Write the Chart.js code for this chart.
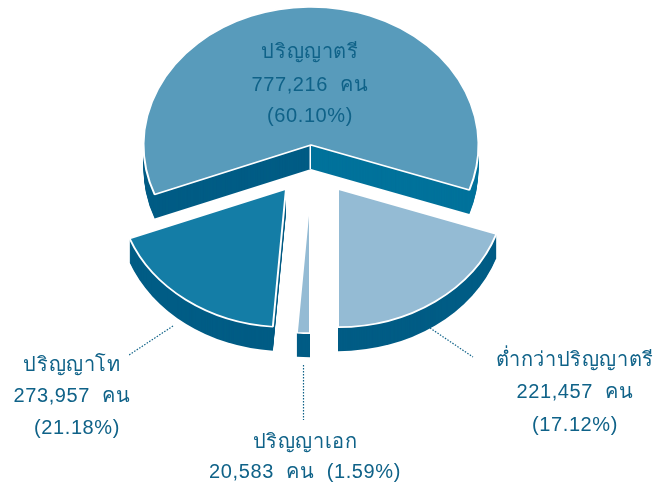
<!DOCTYPE html>
<html lang="th">
<head>
<meta charset="utf-8">
<style>
  html, body { margin: 0; padding: 0; background: #fff; }
  canvas { display: block; }
</style>
<script src="https://cdn.jsdelivr.net/npm/chart.js@4"></script>
</head>
<body>
<canvas id="grafico" width="653" height="485"></canvas>
<script>
const categories = ['ปริญญาตรี', 'ต่ำกว่าปริญญาตรี', 'ปริญญาเอก', 'ปริญญาโท'];
const counts = ['777,216', '221,457', '20,583', '273,957'];
const percents = ['60.10', '17.12', '1.59', '21.18'];
// The reference does not draw its wedges to scale (the 17.12% one is wider than
// the 21.18% one), so the sweeps below, in degrees, are read off the picture.
// The printed counts and percents above are only used in the labels.
const drawnSweeps = [220, 71, 4.5, 64.5];

const faceColors = ['#589bbb', '#94bbd4', '#94bbd4', '#147da6'];
const wallColor = '#005c85';
const innerWallColor = '#00729b';
const textColor = '#0f6288';

const squash = 0.825;  // tilt of the pie
const depth = 24;
const pull = [[0, 0], [27, 44], [-1, 50], [-25, 44]];  // how far each slice is moved out

// Text rows: [category index, what to print, x, y]
const labelRows = [
  [0, i => categories[i], 310, 52],
  [0, i => counts[i] + '  คน', 310, 85],
  [0, i => '(' + percents[i] + '%)', 310, 116],
  [3, i => categories[i], 72, 365],
  [3, i => counts[i] + '  คน', 72, 396],
  [3, i => '(' + percents[i] + '%)', 77, 428],
  [2, i => categories[i], 305, 442],
  [2, i => counts[i] + '  คน  (' + percents[i] + '%)', 305, 472],
  [1, i => categories[i], 575, 360],
  [1, i => counts[i] + '  คน', 575, 392],
  [1, i => '(' + percents[i] + '%)', 575, 425]
];
const leaders = [
  [173, 326, 129, 355],
  [430, 328, 473, 357],
  [303.5, 365, 303.5, 420]
];

// Apply the slice's shift and the squash around the pie centre
function tilt(ctx, arc, dx, dy) {
  ctx.translate(arc.x + dx, arc.y + dy);
  ctx.scale(1, squash);
  ctx.translate(-arc.x, -arc.y);
}

function wedge(ctx, arc) {
  ctx.beginPath();
  ctx.moveTo(arc.x, arc.y);
  ctx.arc(arc.x, arc.y, arc.outerRadius, arc.startAngle, arc.endAngle);
  ctx.closePath();
  ctx.fill();
}

function drawWalls(ctx, arc, i) {
  const [dx, dy] = pull[i];
  for (let d = depth; d > 0; d--) {
    if (i === 0) {
      // The big slice has two walls, split at its point
      ctx.save();
      ctx.beginPath();
      ctx.rect(0, 0, arc.x + dx, 485);
      ctx.clip();
      tilt(ctx, arc, dx, dy + d);
      ctx.fillStyle = wallColor;
      wedge(ctx, arc);
      ctx.restore();
      ctx.save();
      ctx.beginPath();
      ctx.rect(arc.x + dx, 0, 653, 485);
      ctx.clip();
      tilt(ctx, arc, dx, dy + d);
      ctx.fillStyle = innerWallColor;
      wedge(ctx, arc);
      ctx.restore();
    } else {
      ctx.save();
      tilt(ctx, arc, dx, dy + d);
      ctx.fillStyle = wallColor;
      wedge(ctx, arc);
      ctx.restore();
    }
  }
}

const pie3d = {
  id: 'pie3d',
  beforeDatasetsDraw(chart) {
    const ctx = chart.ctx;
    const arcs = chart.getDatasetMeta(0).data;
    arcs.forEach((arc, i) => {
      drawWalls(ctx, arc, i);
      if (i === 0) {
        // White seam between the two walls
        ctx.save();
        ctx.fillStyle = '#fff';
        ctx.fillRect(arc.x - 1.5, arc.y, 1.5, depth);
        ctx.restore();
      }
      ctx.save();
      tilt(ctx, arc, pull[i][0], pull[i][1]);
      arc.draw(ctx);
      ctx.restore();
    });
    return false;  // slices are already drawn
  },
  afterDraw(chart) {
    const ctx = chart.ctx;
    ctx.save();
    ctx.strokeStyle = textColor;
    ctx.lineWidth = 1.2;
    ctx.setLineDash([1.5, 1.5]);
    leaders.forEach(([x1, y1, x2, y2]) => {
      ctx.beginPath();
      ctx.moveTo(x1, y1);
      ctx.lineTo(x2, y2);
      ctx.stroke();
    });
    ctx.setLineDash([]);
    ctx.fillStyle = textColor;
    ctx.font = '20px "Liberation Sans", "Noto Sans", sans-serif';
    ctx.letterSpacing = '0.6px';
    ctx.textAlign = 'center';
    ctx.textBaseline = 'middle';
    labelRows.forEach(([i, text, x, y]) => ctx.fillText(text(i), x, y));
    ctx.restore();
  }
};

new Chart(document.getElementById('grafico'), {
  type: 'pie',
  data: {
    labels: categories,
    datasets: [{
      data: drawnSweeps,
      backgroundColor: faceColors,
      borderColor: '#ffffff',
      borderWidth: 2
    }]
  },
  options: {
    responsive: false,
    animation: false,
    rotation: -111,
    radius: 167.5,
    layout: { padding: { right: 31, bottom: 195 } },
    plugins: { legend: { display: false }, tooltip: { enabled: false } }
  },
  plugins: [pie3d]
});
</script>
</body>
</html>
